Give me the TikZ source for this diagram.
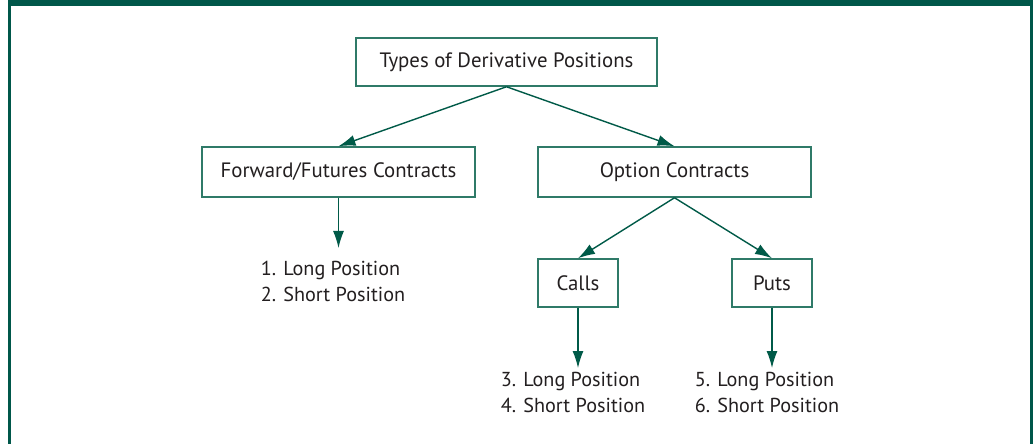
\documentclass[tikz,border=0pt]{standalone}
\usepackage{fontspec}
\setmainfont{PT Sans}
\usepackage{xcolor}
\usetikzlibrary{arrows.meta,positioning}
\definecolor{Frame}{HTML}{00574A}
\definecolor{Edge}{HTML}{2F7A68}
\definecolor{Ink}{HTML}{005A48}
\definecolor{Text}{HTML}{231F20}

\begin{document}
\begin{tikzpicture}[
    x=0.5pt, y=-0.5pt,
    font=\fontsize{10.4}{12.5}\selectfont,
    text=Text,
    box/.style={
        draw=Edge,
        line width=0.75pt,
        fill=white,
        align=center,
        inner sep=0pt,
        minimum height=24pt
    },
    arrow/.style={
        -{Latex[length=8.5pt,width=5.5pt]},
        line width=0.7pt,
        draw=Ink
    },
    listtext/.style={
        align=left,
        inner sep=0pt,
        font=\fontsize{10.1}{13}\selectfont
    }
]

% Background and frame
\useasboundingbox (0,0) rectangle (1035,444);
\fill[white] (0,0) rectangle (1035,444);
\fill[Frame] (8,0) rectangle (1033,6);
\fill[Frame] (8,0) rectangle (11,444);
\fill[Frame] (1030,0) rectangle (1033,444);

% Boxes
\node[box, minimum width=150.5pt] (types) at (506.5,62) {Types of Derivative Positions};
\node[box, minimum width=136.5pt, minimum height=25pt] (forward) at (338.5,172) {Forward/Futures Contracts};
\node[box, minimum width=136.5pt, minimum height=25pt] (option) at (674.5,172) {Option Contracts};
\node[box, minimum width=40pt] (calls) at (578,283) {Calls};
\node[box, minimum width=40pt] (puts) at (772,283) {Puts};

% Arrow ends
\coordinate (fwdEnd) at (338.5,248);
\coordinate (callsEnd) at (578,368);
\coordinate (putsEnd) at (772,368);

% Position lists
\node[listtext, anchor=north] (fwdList) at (333,261) {1. Long Position\\2. Short Position};
\node[listtext, anchor=north] (callsList) at (573,372) {3. Long Position\\4. Short Position};
\node[listtext, anchor=north] (putsList) at (767,372) {5. Long Position\\6. Short Position};

% Connectors
\draw[arrow] (types.south) -- (forward.north);
\draw[arrow] (types.south) -- (option.north);
\draw[arrow] (option.south) -- (calls.north);
\draw[arrow] (option.south) -- (puts.north);
\draw[arrow] (forward.south) -- (fwdEnd);
\draw[arrow] (calls.south) -- (callsEnd);
\draw[arrow] (puts.south) -- (putsEnd);

\end{tikzpicture}
\end{document}
